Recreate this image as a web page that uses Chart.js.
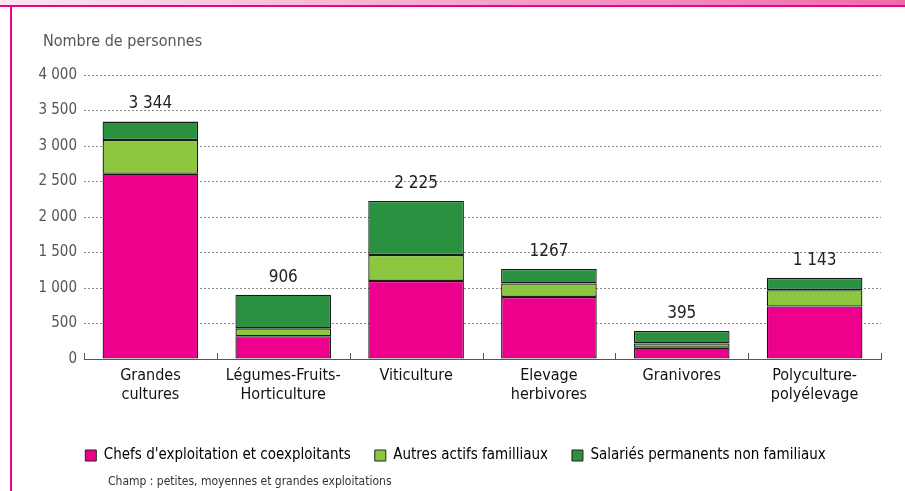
<!DOCTYPE html>
<html>
<head>
<meta charset="utf-8">
<script src="https://cdn.jsdelivr.net/npm/chart.js@4.4.1/dist/chart.umd.min.js"></script>
<style>
  html, body { margin: 0; padding: 0; background: #fff; }
  #wrap { position: relative; width: 905px; height: 491px; overflow: hidden; font-family: "DejaVu Sans Condensed", sans-serif; }
  #band { position: absolute; left: 0; top: 0; width: 905px; height: 5px; background: linear-gradient(to right, #fce6f0, #f06aa9); }
  #topline { position: absolute; left: 0; top: 5px; width: 905px; height: 2px; background: #ec008c; }
  #leftline { position: absolute; left: 10px; top: 5px; width: 2px; height: 486px; background: #ec008c; }
  #ytitle { position: absolute; left: 43px; top: 31px; font-size: 16px; color: #555; }
  #champ { position: absolute; left: 108px; top: 474px; font-size: 12px; color: #333; }
  #chart { position: absolute; left: 0; top: 0; }
</style>
</head>
<body>
<div id="wrap">
  <div id="band"></div>
  <div id="topline"></div>
  <div id="leftline"></div>
  <canvas id="chart" width="905" height="491"></canvas>
  <div id="ytitle">Nombre de personnes</div>
  <div id="champ">Champ : petites, moyennes et grandes exploitations</div>
</div>
<script>
// données
const categories = [
    ['Grandes', 'cultures'],
    ['Légumes-Fruits-', 'Horticulture'],
    'Viticulture',
    ['Elevage', 'herbivores'],
    'Granivores',
    ['Polyculture-', 'polyélevage']
];
const chefs = [2610, 320, 1100, 875, 160, 740];
const autres = [475, 112, 365, 190, 60, 230];
const salaries = [259, 474, 760, 202, 175, 173];
const totalLabels = ['3 344', '906', '2 225', '1267', '395', '1 143'];
const yTicks = [0, 500, 1000, 1500, 2000, 2500, 3000, 3500, 4000];

const FONT = '"DejaVu Sans Condensed", sans-serif';

function fmt(v) {
    return String(v).replace(/\B(?=(\d{3})+(?!\d))/g, ' ');
}

// petits traits verticaux entre les catégories + totaux au-dessus des barres
const extras = {
    id: 'extras',
    afterDatasetsDraw(chart) {
        const ctx = chart.ctx;
        const xs = chart.scales.x;
        const ys = chart.scales.y;
        const area = chart.chartArea;
        const step = (area.right - area.left) / categories.length;
        ctx.save();
        ctx.strokeStyle = '#555';
        ctx.lineWidth = 1;
        for (let i = 0; i <= categories.length; i++) {
            const x = Math.round(area.left + i * step) + 0.5;
            ctx.beginPath();
            ctx.moveTo(x, area.bottom);
            ctx.lineTo(x, area.bottom - 6);
            ctx.stroke();
        }
        ctx.fillStyle = '#222';
        ctx.font = '17px ' + FONT;
        ctx.textAlign = 'center';
        ctx.textBaseline = 'bottom';
        for (let i = 0; i < categories.length; i++) {
            const top = chefs[i] + autres[i] + salaries[i];
            ctx.fillText(totalLabels[i], xs.getPixelForValue(i), ys.getPixelForValue(top) - 9);
        }
        ctx.restore();
    }
};

const ctx = document.getElementById('chart').getContext('2d');
new Chart(ctx, {
    type: 'bar',
    data: {
        labels: categories,
        datasets: [
            { label: "Chefs d'exploitation et coexploitants", data: chefs, backgroundColor: '#ec008c' },
            { label: 'Autres actifs familliaux', data: autres, backgroundColor: '#8dc63f' },
            { label: 'Salariés permanents non familiaux', data: salaries, backgroundColor: '#2a9140' }
        ].map(d => Object.assign(d, {
            borderColor: '#1a1a1a',
            borderWidth: 1.3,
            borderSkipped: false,
            inflateAmount: 0,
            barPercentage: 0.72,
            categoryPercentage: 1
        }))
    },
    options: {
        responsive: false,
        animation: false,
        devicePixelRatio: 1,
        layout: { padding: { left: 30, right: 24, top: 75, bottom: 18 } },
        scales: {
            x: {
                stacked: true,
                grid: { display: false, drawTicks: false },
                border: { display: true, color: '#555', width: 1 },
                ticks: { color: '#111', font: { family: FONT, size: 16 }, padding: 7, maxRotation: 0, autoSkip: false },
                afterFit(s) { s.height = 65; }
            },
            y: {
                stacked: true,
                min: 0,
                max: 4000,
                afterBuildTicks(s) { s.ticks = yTicks.map(v => ({ value: v })); },
                grid: { color: '#8a8a8a', lineWidth: 1, drawTicks: false },
                border: { display: false, dash: [2, 2] },
                ticks: { color: '#555', font: { family: FONT, size: 15 }, padding: 7, callback: v => fmt(v) },
                afterFit(s) { s.width = 54; }
            }
        },
        plugins: {
            legend: {
                position: 'bottom',
                labels: {
                    color: '#111',
                    font: { family: FONT, size: 15 },
                    boxWidth: 11,
                    boxHeight: 11,
                    padding: 24,
                    generateLabels(chart) {
                        return chart.data.datasets.map((d, i) => ({
                            text: d.label,
                            fillStyle: d.backgroundColor,
                            strokeStyle: '#222',
                            lineWidth: 1,
                            datasetIndex: i
                        }));
                    }
                }
            },
            tooltip: { enabled: false }
        }
    },
    plugins: [extras]
});
</script>
</body>
</html>
